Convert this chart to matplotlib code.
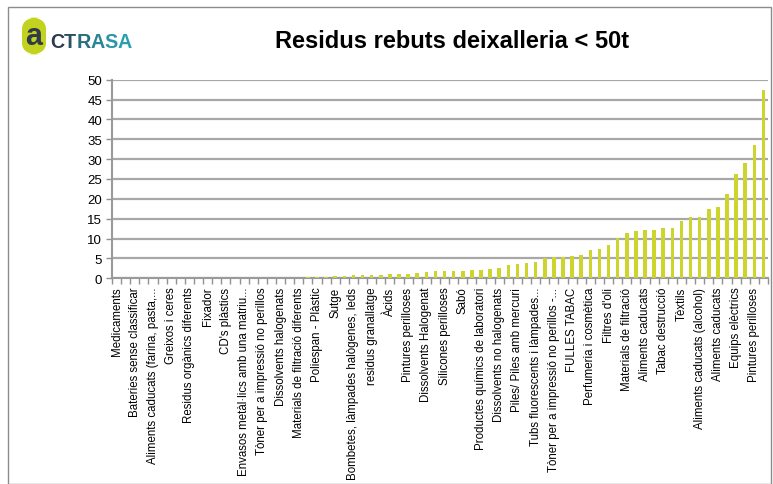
import matplotlib
matplotlib.use("Agg")
import matplotlib.pyplot as plt
from matplotlib.patches import FancyBboxPatch, Rectangle
import numpy as np

plt.rcParams['font.family'] = ['Liberation Sans', 'DejaVu Sans']

title = "Residus rebuts deixalleria < 50t"

values = [0.01, 0.01, 0.01, 0.01, 0.02, 0.02, 0.02, 0.02, 0.03, 0.03,
          0.03, 0.04, 0.04, 0.05, 0.08, 0.10, 0.12, 0.14, 0.16, 0.18,
          0.20, 0.25, 0.40, 0.40, 0.55, 0.60, 0.75, 0.75, 0.90, 0.90,
          1.10, 1.10, 1.20, 1.30, 1.60, 1.75, 1.75, 1.75, 1.90, 2.15,
          2.15, 2.40, 2.55, 3.25, 3.65, 3.85, 4.20, 5.00, 5.30, 5.30,
          5.70, 5.90, 7.10, 7.30, 8.40, 10.2, 11.5, 11.8, 12.1, 12.2,
          12.7, 12.7, 14.4, 15.5, 15.5, 17.5, 18.0, 21.1, 26.3, 29.1,
          33.6, 47.5]

labels = [
    "Medicaments",
    "Bateries sense classificar",
    "Aliments caducats (farina, pasta,...",
    "Greixos i ceres",
    "Residus orgànics diferents",
    "Fixador",
    "CD's plàstics",
    "Envasos metàl·lics amb una matriu...",
    "Tòner per a impressió no perillos",
    "Dissolvents halogenats",
    "Materials de filtració diferents",
    "Poliespan - Plàstic",
    "Sutge",
    "Bombetes, làmpades halògenes, leds",
    "residus granallatge",
    "Àcids",
    "Pintures perilloses",
    "Dissolvents Halogenat",
    "Silicones perilloses",
    "Sabó",
    "Productes químics de laboratori",
    "Dissolvents no halogenats",
    "Piles/ Piles amb mercuri",
    "Tubs fluorescents i làmpades...",
    "Tòner per a impressió no perillos -...",
    "FULLES TABAC",
    "Perfumeria i cosmètica",
    "Filtres d'oli",
    "Materials de filtració",
    "Aliments caducats",
    "Tabac destrucció",
    "Tèxtils",
    "Aliments caducats (alcohol)",
    "Aliments caducats",
    "Equips elèctrics",
    "Pintures perilloses",
]

yticks = [0, 5, 10, 15, 20, 25, 30, 35, 40, 45, 50]

W, H = 773, 485
fig = plt.figure(figsize=(W / 100, H / 100), dpi=100)
fig.patch.set_facecolor('white')

# outer border
fig.add_artist(Rectangle((8 / W, 0), (771 - 8) / W, 1 - 8 / H, transform=fig.transFigure,
                         fill=False, edgecolor='#8c8c8c', linewidth=1.0))

ax = fig.add_axes([112 / W, 1 - 279.3 / H, 656 / W, (279.3 - 80.7) / H])
x = np.arange(len(values))
ax.bar(x, values, width=0.4, color='#cdd42c', zorder=3)

ax.set_xlim(-0.5, len(values) - 0.5)
ax.set_ylim(0, 50)
ax.set_yticks(yticks)
ax.set_yticklabels([str(v) for v in yticks], fontsize=9.5)
ax.yaxis.grid(True, color='#a8a8a8', linewidth=1.6, zorder=0)
ax.set_axisbelow(True)

ax.set_xticks(x[::2])
ax.set_xticklabels(labels, rotation=90, fontsize=8.3, ha='center', va='top')
ax.tick_params(axis='x', length=0, pad=6)
ax.set_xticks(np.arange(-0.5, len(values) + 0.5, 1), minor=True)
ax.tick_params(axis='x', which='minor', length=4, color='#909090', width=1)
ax.tick_params(axis='y', length=4, color='#909090', width=1, pad=3)

for s in ['top', 'right']:
    ax.spines[s].set_visible(False)
ax.spines['left'].set_color('#9a9a9a')
ax.spines['left'].set_linewidth(1.5)
ax.spines['bottom'].set_color('#9a9a9a')
ax.spines['bottom'].set_linewidth(1.5)

# title
fig.text(452 / W, 1 - 42 / H, title, ha='center', va='center',
         fontsize=17, fontweight='bold', color='black')

# logo
icon = FancyBboxPatch((22 / W, 1 - 56 / H), 24 / W, 38 / H,
                      boxstyle="round,pad=0.0,rounding_size=0.025",
                      transform=fig.transFigure, facecolor='#c3d21e', edgecolor='none')
fig.add_artist(icon)
fig.text(34 / W, 1 - 37 / H, "a", ha='center', va='center', fontsize=22,
         fontweight='bold', color='#2e3b48')

letters = "CTRASA"
colors = ['#2e3b4e', '#2c4f63', '#2b6d80', '#2a8596', '#2a96a6', '#2aa0ae']
logo_family = ['Liberation Sans Narrow', 'Liberation Sans']
# measure total width at a base size, then scale to fit ~82 px
probe = fig.text(0, 0, letters, fontsize=20, fontweight='bold', family=logo_family)
fig.canvas.draw()
base_w = probe.get_window_extent().width
probe.remove()
size = 20 * 82 / base_w
xpos = 50
for ch, c in zip(letters, colors):
    t = fig.text(xpos / W, 1 - 42 / H, ch, ha='left', va='center', fontsize=size,
                 color=c, fontweight='bold', family=logo_family)
    fig.canvas.draw()
    xpos += t.get_window_extent().width

fig.savefig("out.png", dpi=100)
